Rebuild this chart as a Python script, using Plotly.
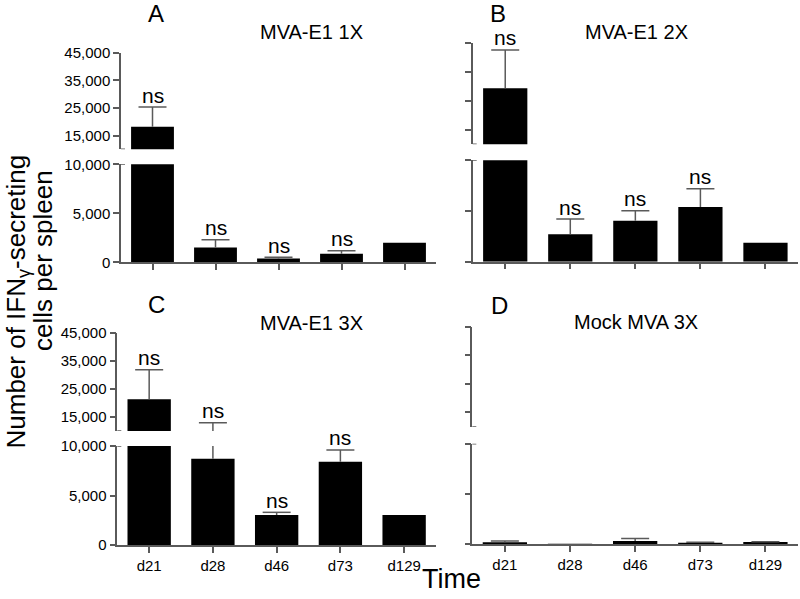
import plotly.graph_objects as go

# categories / labels
days = ["d21", "d28", "d46", "d73", "d129"]
panel_letters = ["A", "B", "C", "D"]
panel_titles = ["MVA-E1 1X", "MVA-E1 2X", "MVA-E1 3X", "Mock MVA 3X"]

# means and upper error (SEM)
mean_1x = [18200, 1500, 400, 880, 2000]
err_1x = [7100, 810, 120, 300, None]
mean_2x = [29400, 2700, 4050, 5400, 1870]
err_2x = [13300, 1500, 980, 1800, None]
mean_3x = [21300, 8700, 3030, 8400, 3030]
err_3x = [10500, 4250, 270, 1200, None]
mean_mock = [200, 20, 330, 130, 230]
err_mock = [130, None, 240, 70, 20]

ns_1x = ["ns", "ns", "ns", "ns", ""]
ns_2x = ["ns", "ns", "ns", "ns", ""]
ns_3x = ["ns", "ns", "ns", "ns", ""]
ns_mock = ["", "", "", "", ""]

lower_ticks = [0, 5000, 10000]
upper_ticks = [15000, 25000, 35000, 45000]
break_at = 10000
top_at = 45000

means = [mean_1x, mean_2x, mean_3x, mean_mock]
errs = [err_1x, err_2x, err_3x, err_mock]
sigs = [ns_1x, ns_2x, ns_3x, ns_mock]

W, H = 800, 599
FONT = "Arial, 'Liberation Sans', sans-serif"
AX = "#5a5a5a"

# pixel boxes: x0, x1, upper top, upper bottom, lower top, lower bottom
boxes = [
    (121, 436, 52.7, 149.3, 164.3, 262.3),
    (472.7, 798, 43.3, 144.3, 160.3, 261.7),
    (117.3, 436, 332.7, 431, 446, 545),
    (472.3, 798, 327, 426.7, 443.7, 544.3),
]
letter_pos = [(155.5, 13), (498, 13), (156, 304), (499, 305)]
title_pos = [(311, 31.5), (636, 31.5), (311, 323), (636, 322)]

fig = go.Figure()
layout = dict(
    width=W, height=H, margin=dict(l=0, r=0, t=0, b=0, autoexpand=False),
    paper_bgcolor="white", plot_bgcolor="white", showlegend=False,
    font=dict(family=FONT, color="black"),
)
annotations = []
shapes = []

for i in range(4):
    x0, x1, ut, ub, lt, lb = boxes[i]
    xa = "x%d" % (i + 1)
    ylo = "y%d" % (2 * i + 1)
    yup = "y%d" % (2 * i + 2)
    left_col = i in (0, 2)
    bottom_row = i in (2, 3)

    # error stems and caps (upper side only), built from the data arrays
    sx, sy, cx, cy = [], [], [], []
    for d, m, e in zip(days, means[i], errs[i]):
        if e is None:
            continue
        sx += [d, d, None]
        sy += [m, m + e, None]
        cx.append(d)
        cy.append(m + e)

    for ya in (ylo, yup):
        fig.add_trace(go.Bar(
            x=days, y=means[i], xaxis=xa, yaxis=ya, width=0.68,
            marker=dict(color="black", line=dict(width=0)),
        ))
        fig.add_trace(go.Scatter(
            x=sx, y=sy, xaxis=xa, yaxis=ya, mode="lines",
            line=dict(color=AX, width=1.5), hoverinfo="skip",
        ))
        fig.add_trace(go.Scatter(
            x=cx, y=cy, xaxis=xa, yaxis=ya, mode="markers",
            marker=dict(symbol="line-ew-open", size=20, color=AX,
                        line=dict(color=AX, width=1.5)),
            hoverinfo="skip",
        ))

    layout["xaxis%d" % (i + 1)] = dict(
        domain=[x0 / W, x1 / W], anchor=ylo, range=[-0.5, 4.5], automargin=False,
        showline=True, linecolor=AX, linewidth=1.5, showgrid=False, zeroline=False,
        ticks="outside", ticklen=6, tickwidth=1.5, tickcolor=AX,
        showticklabels=bottom_row, tickfont=dict(size=15, family=FONT, color="black"),
    )
    layout["yaxis%d" % (2 * i + 1)] = dict(
        domain=[1 - lb / H, 1 - lt / H], anchor=xa, range=[0, break_at], automargin=False,
        showline=True, linecolor=AX, linewidth=1.5, showgrid=False, zeroline=False,
        tickvals=lower_ticks, tickformat=",d", ticks="outside", ticklen=6,
        tickwidth=1.5, tickcolor=AX, showticklabels=left_col,
        tickfont=dict(size=15, family=FONT, color="black"),
    )
    layout["yaxis%d" % (2 * i + 2)] = dict(
        domain=[1 - ub / H, 1 - ut / H], anchor=xa, range=[break_at, top_at], automargin=False,
        showline=True, linecolor=AX, linewidth=1.5, showgrid=False, zeroline=False,
        tickvals=upper_ticks, tickformat=",d", ticks="outside", ticklen=6,
        tickwidth=1.5, tickcolor=AX, showticklabels=left_col,
        tickfont=dict(size=15, family=FONT, color="black"),
    )

    # break marks at both ends of the gap
    for ya in (ylo, yup):
        shapes.append(dict(
            type="line", xref=xa, yref=ya, xsizemode="pixel", xanchor=-0.5,
            x0=-4, x1=4, y0=break_at, y1=break_at, line=dict(color=AX, width=1.5),
        ))

    # ns labels above the error bars
    for j, d in enumerate(days):
        if not sigs[i][j]:
            continue
        top = means[i][j] + (errs[i][j] or 0)
        annotations.append(dict(
            x=d, y=top, xref=xa, yref=yup if top > break_at else ylo,
            text=sigs[i][j], showarrow=False, yanchor="middle", yshift=12,
            font=dict(size=21, family=FONT, color="black"),
        ))

    lx, ly = letter_pos[i]
    annotations.append(dict(x=lx / W, y=1 - ly / H, xref="paper", yref="paper",
                            text=panel_letters[i], showarrow=False,
                            xanchor="center", yanchor="middle",
                            font=dict(size=24, family=FONT, color="black")))
    tx, ty = title_pos[i]
    annotations.append(dict(x=tx / W, y=1 - ty / H, xref="paper", yref="paper",
                            text=panel_titles[i], showarrow=False,
                            xanchor="center", yanchor="middle",
                            font=dict(size=20, family=FONT, color="black")))

# shared axis titles
annotations.append(dict(x=16.5 / W, y=1 - 302 / H, xref="paper", yref="paper",
                        text="Number of IFN<sub>γ</sub>-secreting", textangle=-90,
                        showarrow=False, xanchor="center", yanchor="middle",
                        font=dict(size=26, family=FONT, color="black")))
annotations.append(dict(x=43 / W, y=1 - 261 / H, xref="paper", yref="paper",
                        text="cells per spleen", textangle=-90,
                        showarrow=False, xanchor="center", yanchor="middle",
                        font=dict(size=26, family=FONT, color="black")))
annotations.append(dict(x=452 / W, y=1 - 579 / H, xref="paper", yref="paper",
                        text="Time", showarrow=False, xanchor="center", yanchor="middle",
                        font=dict(size=27, family=FONT, color="black")))

layout["annotations"] = annotations
layout["shapes"] = shapes
fig.update_layout(**layout)
# drop the page's default body margin so the figure sits at the window origin
fig.write_html("out.html", config={"displayModeBar": False},
               post_script="document.body.style.margin='0';document.body.style.padding='0';")
